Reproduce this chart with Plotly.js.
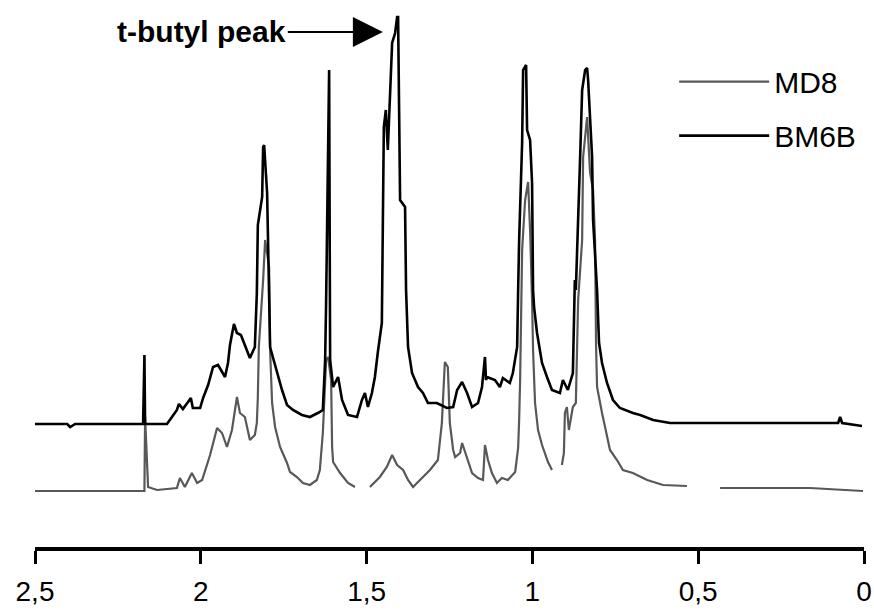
<!DOCTYPE html>
<html>
<head>
<meta charset="utf-8">
<script src="https://cdn.plot.ly/plotly-3.0.1.min.js"></script>
<style>html,body{margin:0;padding:0;background:#fff;}#chart{width:874px;height:613px;}</style>
</head>
<body>
<div id="chart"></div>
<script>
// Chemical shift (ppm) and intensity (arbitrary units)
var md8Ppm = [2.506,2.174,2.170,2.168,2.159,2.132,2.072,2.063,2.048,2.027,2.011,1.996,1.987,1.972,1.951,1.936,1.921,1.906,1.891,1.882,1.867,1.852,1.837,1.831,1.828,1.825,1.812,1.806,1.794,1.791,1.785,1.776,1.761,1.740,1.731,1.710,1.692,1.671,1.650,1.641,1.632,1.622,1.616,1.607,1.604,1.601,1.580,1.556,1.535,1.512,1.490,1.460,1.439,1.423,1.408,1.390,1.375,1.360,1.339,1.309,1.285,1.273,1.264,1.255,1.249,1.239,1.233,1.218,1.212,1.197,1.182,1.164,1.149,1.143,1.134,1.122,1.107,1.092,1.074,1.052,1.043,1.040,1.037,1.031,1.022,1.013,1.007,1.001,0.998,0.992,0.983,0.971,0.962,0.953,0.941,0.926,0.911,0.905,0.902,0.896,0.890,0.878,0.869,0.862,0.850,0.847,0.835,0.826,0.817,0.811,0.808,0.805,0.790,0.775,0.766,0.745,0.727,0.697,0.654,0.606,0.534,0.480,0.434,0.163,0.003];
var md8Int = [0,0,0,74,4,1,3,13,4,18,8,11,21,36,63,58,44,61,94,78,74,51,56,68,94,144,211,251,224,141,88,64,44,28,19,14,8,6,11,21,58,131,134,111,44,29,18,8,4,null,4,14,24,36,26,21,11,4,11,21,31,68,129,124,68,41,34,38,48,34,18,13,11,46,31,18,8,13,11,19,43,71,111,241,291,309,261,191,141,88,61,46,38,29,21,null,26,38,78,84,61,84,88,191,251,334,374,318,301,251,144,104,78,54,41,31,21,18,11,6,5,null,3,3,0];

var bm6bPpm = [2.506,2.403,2.394,2.379,2.174,2.170,2.168,2.102,2.087,2.072,2.066,2.054,2.030,2.024,2.002,1.993,1.978,1.963,1.948,1.927,1.918,1.912,1.900,1.891,1.879,1.867,1.852,1.837,1.831,1.828,1.815,1.812,1.809,1.800,1.794,1.791,1.782,1.770,1.755,1.740,1.722,1.695,1.671,1.647,1.632,1.625,1.622,1.613,1.610,1.601,1.586,1.574,1.556,1.529,1.514,1.505,1.496,1.484,1.475,1.466,1.454,1.451,1.448,1.442,1.436,1.423,1.414,1.408,1.405,1.399,1.384,1.381,1.378,1.375,1.363,1.345,1.330,1.315,1.288,1.258,1.239,1.227,1.212,1.197,1.182,1.164,1.152,1.143,1.140,1.137,1.113,1.098,1.089,1.068,1.059,1.046,1.043,1.040,1.031,1.028,1.019,1.016,1.007,1.001,0.998,0.995,0.986,0.971,0.956,0.941,0.917,0.908,0.893,0.878,0.872,0.869,0.856,0.850,0.841,0.835,0.832,0.826,0.820,0.817,0.811,0.805,0.799,0.790,0.775,0.757,0.736,0.697,0.675,0.636,0.585,0.525,0.078,0.072,0.066,0.006];
var bm6bInt = [67,67,64,67,67,136,67,67,74,81,87,82,93,83,83,93,106,124,126,114,128,146,167,158,156,146,133,144,198,266,294,344,346,298,191,144,133,118,101,86,81,76,74,78,81,131,191,421,131,104,114,91,76,74,91,98,84,98,114,139,168,268,364,381,341,448,458,474,474,291,284,201,164,144,118,104,98,88,88,83,84,101,109,98,84,88,104,134,111,114,111,104,113,108,118,144,201,251,348,421,426,361,351,308,201,184,158,128,114,101,98,111,101,118,211,201,334,401,421,423,411,371,334,271,234,201,148,128,108,91,83,78,76,71,68,68,68,74,68,65];

var tickVals = [2.5, 2, 1.5, 1, 0.5, 0];
var tickLabels = ["2,5", "2", "1,5", "1", "0,5", "0"];
var seriesNames = ["MD8", "BM6B"];
var annotationText = "t-butyl peak";
var annotationPoint = [1.451, 459];

var FONT = "Liberation Sans, Arial, Helvetica, sans-serif";

var traces = [
  {x: md8Ppm, y: md8Int, name: seriesNames[0], type: "scatter", mode: "lines",
   connectgaps: false, line: {color: "#585858", width: 2.2}, legendgroup: "a"},
  {x: bm6bPpm, y: bm6bInt, name: seriesNames[1], type: "scatter", mode: "lines",
   line: {color: "#000000", width: 2.6}, legendgroup: "b"}
];

var layout = {
  width: 874, height: 613,
  margin: {l: 35, r: 10, t: 10, b: 66},
  paper_bgcolor: "#ffffff", plot_bgcolor: "#ffffff",
  font: {family: FONT, color: "#000", size: 30},
  showlegend: true,
  legend: {x: 0.771, y: 0.915, xanchor: "left", yanchor: "top", bgcolor: "rgba(0,0,0,0)",
           font: {family: FONT, size: 30, color: "#000"}, itemwidth: 90, tracegroupgap: 12},
  xaxis: {range: [2.5, 0], tickmode: "array", tickvals: tickVals, ticktext: tickLabels,
          showline: true, linewidth: 4, linecolor: "#000", ticks: "outside", ticklen: 13,
          tickwidth: 3, tickcolor: "#000", showgrid: false, zeroline: false,
          tickfont: {family: FONT, size: 28, color: "#000"}, ticklabelstandoff: 3},
  yaxis: {visible: false, range: [-56, 481], showgrid: false, zeroline: false},
  annotations: [{
    x: annotationPoint[0], y: annotationPoint[1], xref: "x", yref: "y",
    text: "<b>" + annotationText + "</b>", showarrow: true, arrowhead: 2, arrowsize: 3,
    arrowwidth: 2, arrowcolor: "#000", ax: -95, ay: 0, xanchor: "right",
    font: {family: FONT, size: 30, color: "#000"}
  }]
};

Plotly.newPlot("chart", traces, layout, {displayModeBar: false, staticPlot: true});
</script>
</body>
</html>
